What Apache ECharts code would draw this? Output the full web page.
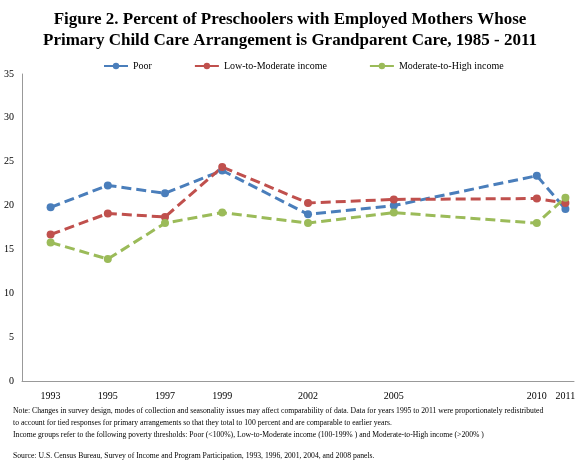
<!DOCTYPE html>
<html><head><meta charset="utf-8">
<script src="https://cdn.jsdelivr.net/npm/echarts@6/dist/echarts.min.js"></script>
<style>body{margin:0;background:#fff}#c{width:580px;height:468px}</style>
</head><body><div id="c"></div>
<script>
const years = [1993, 1995, 1997, 1999, 2002, 2005, 2010, 2011];
const poor = [19.8, 22.3, 21.4, 24.0, 19.0, 20.0, 23.4, 19.6];
const lowMod = [16.7, 19.1, 18.7, 24.4, 20.3, 20.7, 20.8, 20.3];
const modHigh = [15.8, 13.9, 18.0, 19.2, 18.0, 19.2, 18.0, 20.9];
const yTicks = [0, 5, 10, 15, 20, 25, 30, 35];

const font = '"Liberation Serif", "DejaVu Serif", serif';
const chart = echarts.init(document.getElementById('c'));

function line(name, vals, color) {
    return {
        name: name, type: 'line',
        data: years.map((y, i) => [y, vals[i]]),
        symbol: 'circle', symbolSize: 8,
        lineStyle: { color: color, width: 3, type: [10, 5] },
        itemStyle: { color: color }
    };
}

const notes = [
    'Note: Changes in survey design, modes of collection and seasonality issues may affect comparability of data. Data for years 1995 to 2011 were proportionately redistributed',
    'to account for tied responses for primary arrangements so that they total to 100 percent and are comparable to earlier years.',
    'Income groups refer to the following poverty thresholds: Poor (<100%), Low-to-Moderate income (100-199% ) and Moderate-to-High income (>200% )'
];

chart.setOption({
    animation: false,
    textStyle: { fontFamily: font },
    title: [{
        text: 'Figure 2. Percent of Preschoolers with Employed Mothers Whose\nPrimary Child Care Arrangement is Grandparent Care, 1985 - 2011',
        left: 'center', top: 4,
        textStyle: { fontFamily: font, fontSize: 17, fontWeight: 'bold', lineHeight: 21, color: '#000' }
    }, {
        text: notes.join('\n'),
        left: 8, top: 400,
        textStyle: { fontFamily: font, fontSize: 7.7, fontWeight: 'normal', lineHeight: 12, color: '#000' }
    }, {
        text: 'Source: U.S. Census Bureau, Survey of Income and Program Participation, 1993, 1996, 2001, 2004, and 2008 panels.',
        left: 8, top: 447,
        textStyle: { fontFamily: font, fontSize: 7.7, fontWeight: 'normal', color: '#000' }
    }],
    legend: {
        top: 56, left: 98, itemGap: 42, itemWidth: 24, itemHeight: 8,
        textStyle: { fontFamily: font, fontSize: 10, color: '#000' }
    },
    grid: { left: 22, right: 6, top: 74, bottom: 87 },
    xAxis: {
        type: 'value', min: 1992, max: 2011.3, interval: 1,
        splitLine: { show: false }, axisTick: { show: false },
        axisLine: { lineStyle: { color: '#999' } },
        axisLabel: {
            fontFamily: font, fontSize: 10, color: '#000', margin: 10,
            showMaxLabel: false,
            formatter: v => years.includes(v) ? String(v) : ''
        }
    },
    yAxis: {
        type: 'value', min: yTicks[0], max: yTicks[yTicks.length - 1], interval: 5,
        splitLine: { show: false }, axisTick: { show: false },
        axisLine: { show: true, lineStyle: { color: '#999' } },
        axisLabel: { fontFamily: font, fontSize: 10, color: '#000', margin: 8 }
    },
    series: [
        line('Poor', poor, '#4a7ebb'),
        line('Low-to-Moderate income', lowMod, '#c0504d'),
        line('Moderate-to-High income', modHigh, '#9bbb59')
    ]
});
</script></body></html>
